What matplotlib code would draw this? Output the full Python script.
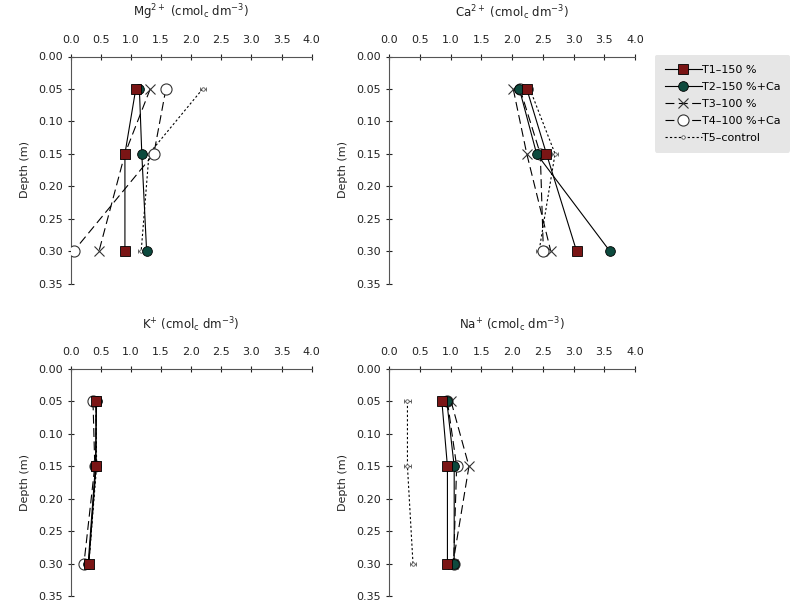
import matplotlib
matplotlib.use("Agg")
import matplotlib.pyplot as plt
from matplotlib.lines import Line2D

depth = [0.05, 0.15, 0.30]
treatments = ["T1\u2013150 %", "T2\u2013150 %+Ca", "T3\u2013100 %", "T4\u2013100 %+Ca", "T5\u2013control"]

mg_T1 = [1.08, 0.90, 0.90]
mg_T2 = [1.14, 1.18, 1.26]
mg_T3 = [1.32, 0.90, 0.47]
mg_T4 = [1.58, 1.38, 0.05]
mg_T5 = [2.19, 1.30, 1.17]

ca_T1 = [2.24, 2.56, 3.05]
ca_T2 = [2.12, 2.40, 3.59]
ca_T3 = [2.02, 2.24, 2.63]
ca_T4 = [2.13, 2.46, 2.51]
ca_T5 = [2.29, 2.70, 2.44]

k_T1 = [0.42, 0.42, 0.30]
k_T2 = [0.43, 0.41, 0.29]
k_T3 = [0.42, 0.42, 0.30]
k_T4 = [0.37, 0.40, 0.22]
k_T5 = [0.42, 0.43, 0.30]

na_T1 = [0.86, 0.95, 0.95]
na_T2 = [0.94, 1.06, 1.06]
na_T3 = [1.01, 1.30, 1.04]
na_T4 = [0.95, 1.10, 1.05]
na_T5 = [0.30, 0.30, 0.39]

titles = [r"Mg$^{2+}$ (cmol$_\mathrm{c}$ dm$^{-3}$)",
          r"Ca$^{2+}$ (cmol$_\mathrm{c}$ dm$^{-3}$)",
          r"K$^{+}$ (cmol$_\mathrm{c}$ dm$^{-3}$)",
          r"Na$^{+}$ (cmol$_\mathrm{c}$ dm$^{-3}$)"]

xticks = [0.0, 0.5, 1.0, 1.5, 2.0, 2.5, 3.0, 3.5, 4.0]
yticks = [0.00, 0.05, 0.10, 0.15, 0.20, 0.25, 0.30, 0.35]

RED = "#7a1515"
TEAL = "#0d4a3e"

styles = [
    dict(color="black", lw=0.8, ls="-", marker="s", ms=7, mfc=RED, mec="black", mew=0.6),
    dict(color="black", lw=0.8, ls="-", marker="o", ms=7, mfc=TEAL, mec="black", mew=0.6),
    dict(color="black", lw=0.8, ls=(0, (8, 4)), marker="x", ms=7, mfc="none", mec="#333333", mew=0.8),
    dict(color="black", lw=0.8, ls=(0, (8, 4)), marker="o", ms=8, mfc="white", mec="#333333", mew=0.8),
    dict(color="black", lw=0.8, ls=(0, (2, 2)), marker="o", ms=2.5, mfc="white", mec="#555555", mew=0.6),
]

plt.rcParams['font.family'] = ['DejaVu Sans']
fig = plt.figure(figsize=(7.94, 6.03), dpi=100)

positions = [
    [70.7 / 794, 1 - 283.5 / 603, 241 / 794, 227 / 603],
    [389 / 794, 1 - 283.5 / 603, 246 / 794, 227 / 603],
    [70.7 / 794, 1 - 596 / 603, 241 / 794, 227 / 603],
    [389 / 794, 1 - 596 / 603, 246 / 794, 227 / 603],
]

data = [
    [mg_T1, mg_T2, mg_T3, mg_T4, mg_T5],
    [ca_T1, ca_T2, ca_T3, ca_T4, ca_T5],
    [k_T1, k_T2, k_T3, k_T4, k_T5],
    [na_T1, na_T2, na_T3, na_T4, na_T5],
]

for i, (pos, series, title) in enumerate(zip(positions, data, titles)):
    ax = fig.add_axes(pos)
    for j, vals in enumerate(series):
        st = styles[j]
        if j == 4:
            ax.errorbar(vals, depth, xerr=0.05, capsize=1.5, elinewidth=0.8,
                        ecolor="#555555", zorder=2, **st)
        else:
            ax.plot(vals, depth, zorder=3 + (4 - j) * 0.1, **st)
    ax.set_xlim(0, 4.0)
    ax.set_ylim(0.35, 0.0)
    ax.set_xticks(xticks)
    ax.set_xticklabels([f"{v:.1f}" for v in xticks])
    ax.set_yticks(yticks)
    ax.set_yticklabels([f"{v:.2f}" for v in yticks])
    ax.xaxis.tick_top()
    ax.tick_params(axis="both", direction="inout", length=5, width=0.8,
                   labelsize=8, colors="#222222", pad=3)
    ax.tick_params(axis="x", pad=6)
    for s in ["right", "bottom"]:
        ax.spines[s].set_visible(False)
    for s in ["left", "top"]:
        ax.spines[s].set_color("#555555")
        ax.spines[s].set_linewidth(0.8)
    ax.set_ylabel("Depth (m)", fontsize=8, labelpad=6, color="#222222")
    cx = pos[0] + pos[2] / 2
    ty = pos[1] + pos[3] + 44 / 603
    fig.text(cx, ty, title, ha="center", va="center", fontsize=8.5, color="#222222")

handles = [Line2D([0], [0], **styles[j]) for j in range(5)]
leg = fig.legend(handles, treatments, loc="upper left",
                 bbox_to_anchor=(655 / 794, 1 - 55 / 603),
                 fontsize=8, frameon=True, handlelength=3.3, handletextpad=0.0,
                 labelspacing=0.62, borderpad=0.9, borderaxespad=0)
leg.get_frame().set_facecolor("#e6e6e6")
leg.get_frame().set_edgecolor("none")
leg.get_frame().set_alpha(1)

fig.savefig("out.png", dpi=100)
